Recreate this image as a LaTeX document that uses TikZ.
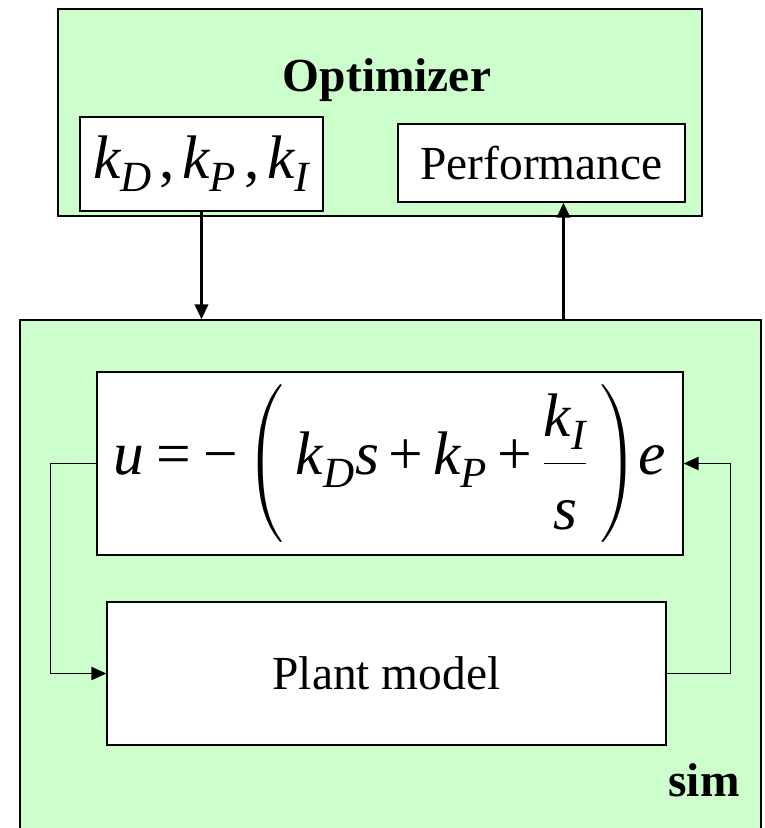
\documentclass[tikz,border=0pt]{standalone}
\usepackage{amsmath}
\usepackage{fontspec}
\setmainfont{Liberation Serif}
\usepackage{xcolor}
\usepackage{tikz}
\usetikzlibrary{arrows.meta,positioning,calc}
\definecolor{simgreen}{RGB}{204,255,204}
\newcommand{\vi}[1]{\textit{#1}}
\newcommand{\tplus}{\mathbin{\text{+}}}
\newcommand{\teq}{\mathrel{\text{=}}}
\newcommand{\tminus}{\text{−}}
\newcommand{\tcomma}{\,\text{,}\,}

\begin{document}
\begin{tikzpicture}[x=0.02cm, y=-0.02cm, every node/.style={font=\fontsize{27}{32}\selectfont},
    grp/.style={draw, line width=0.8pt, fill=simgreen, inner sep=0pt},
    blk/.style={draw, line width=0.8pt, fill=white, inner sep=0pt},
    link/.style={line width=1.6pt, -{Triangle[length=8.5pt, width=7.5pt]}},
    fb/.style={line width=0.75pt, -{Triangle[length=8.5pt, width=7.5pt]}}]
    \useasboundingbox (0,0) rectangle (764,828);
    \node (opt) [grp, minimum width=12.88cm, minimum height=4.14cm] at (380,112.5) {};
    \node (optlbl) at (387,80) {\textbf{Optimizer}};
    \node (gains) [blk, minimum width=4.86cm, minimum height=1.88cm] at (201.5,164)
      {\fontsize{35}{42}\selectfont $\vi{k}_{\vi{D}}\tcomma\vi{k}_{\vi{P}}\tcomma\vi{k}_{\vi{I}}$};
    \node (perf) [blk, minimum width=5.74cm, minimum height=1.56cm] at (541.5,163) {Performance};
    \node (sim) [grp, minimum width=14.82cm, minimum height=10.6cm] at (390.5,585) {};
    \node (simlbl) at (704,780) {\textbf{sim}};
    \node (ctrl) [blk, minimum width=11.72cm, minimum height=3.66cm] at (390,463.5)
      {\fontsize{35}{42}\selectfont $\vi{u}\teq\tminus\left(\vphantom{\rule[-36pt]{0pt}{52pt}}\;\vi{k}_{\vi{D}}\vi{s}\tplus\vi{k}_{\vi{P}}\tplus
        \dfrac{\raisebox{5pt}{$\vi{k}_{\vi{I}}$}}{\rule{0pt}{34pt}\vi{s}}\;\right)\!\vi{e}$};
    \node (plant) [blk, minimum width=11.18cm, minimum height=2.86cm] at (386.5,673.5) {Plant model};
    \draw[link] (gains.south) -- (gains.south |- sim.north);
    \draw[link] ([xshift=0.44cm]perf.south |- sim.north) -- ([xshift=0.44cm]perf.south);
    \draw[fb] (ctrl.west) -- ++(-46,0) |- (plant.west);
    \draw[fb] (plant.east) -- ++(64,0) |- (ctrl.east);
\end{tikzpicture}
\end{document}
